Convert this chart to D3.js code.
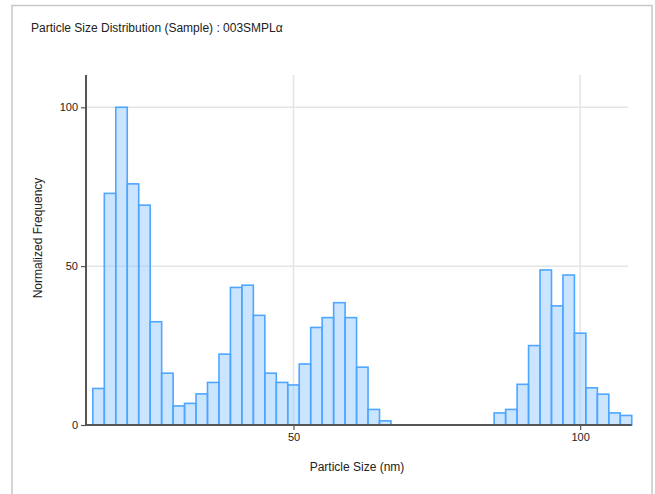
<!DOCTYPE html>
<html>
<head>
<meta charset="utf-8">
<script src="https://cdn.jsdelivr.net/npm/d3@7"></script>
<style>
  body { margin: 0; background: #fff; }
  text { font-family: "Liberation Sans", "DejaVu Sans", sans-serif; fill: #222; }
</style>
</head>
<body>
<div id="chart"></div>
<script>
// bin left edges (nm), width 2
const binStarts = [15, 17, 19, 21, 23, 25, 27, 29, 31, 33, 35, 37, 39, 41, 43, 45, 47, 49, 51, 53, 55, 57, 59, 61, 63, 65,
                   85, 87, 89, 91, 93, 95, 97, 99, 101, 103, 105, 107];
const frequency = [11.5, 72.9, 100, 75.9, 69.2, 32.5, 16.3, 6.0, 6.8, 9.8, 13.4, 22.3, 43.3, 44.0, 34.5, 16.3, 13.4, 12.6,
                   19.2, 30.7, 33.8, 38.5, 33.8, 18.2, 4.9, 1.3,
                   3.8, 4.9, 12.8, 25.0, 48.8, 37.5, 47.2, 28.9, 11.7, 9.7, 3.8, 3.0];
const binWidth = 2;
const yTicks = [0, 50, 100];
const xTicks = [50, 100];
const title = 'Particle Size Distribution (Sample) : 003SMPLα';

const width = 655, height = 494;
const plotLeft = 86, plotRight = 628, plotTop = 75, plotBottom = 425;

const svg = d3.select('#chart').append('svg')
    .attr('width', width)
    .attr('height', height);

// outer frame
svg.append('rect')
    .attr('x', 12).attr('y', 5.5)
    .attr('width', 640).attr('height', 500)
    .attr('fill', 'none')
    .attr('stroke', '#c8c8c8')
    .attr('stroke-width', 1.5);

svg.append('text')
    .attr('x', 31).attr('y', 32)
    .attr('font-size', 12)
    .text(title);

const x = d3.scaleLinear()
    .domain([50 - (293.5 - plotLeft) / 5.733, 50 + (plotRight - 293.5) / 5.733])
    .range([plotLeft, plotRight]);
const y = d3.scaleLinear().domain([0, 100]).range([plotBottom, 107.3]);

// grid
svg.selectAll('.hgrid')
    .data(yTicks.filter(d => d > 0))
    .enter().append('line')
    .attr('x1', plotLeft).attr('x2', plotRight)
    .attr('y1', d => y(d)).attr('y2', d => y(d))
    .attr('stroke', '#e4e4e4').attr('stroke-width', 1.5);

svg.selectAll('.vgrid')
    .data(xTicks)
    .enter().append('line')
    .attr('x1', d => x(d)).attr('x2', d => x(d))
    .attr('y1', plotTop).attr('y2', plotBottom)
    .attr('stroke', '#e4e4e4').attr('stroke-width', 1.5);

// bars
svg.selectAll('.bar')
    .data(binStarts)
    .enter().append('rect')
    .attr('class', 'bar')
    .attr('x', d => x(d))
    .attr('width', d => x(d + binWidth) - x(d))
    .attr('y', (d, i) => y(frequency[i]))
    .attr('height', (d, i) => y(0) - y(frequency[i]))
    .attr('fill', 'rgba(153, 204, 255, 0.5)')
    .attr('stroke', '#4ea6ff')
    .attr('stroke-width', 1.6);

// axes
const yAxis = svg.append('g')
    .attr('transform', `translate(${plotLeft},0)`)
    .call(d3.axisLeft(y).tickValues(yTicks).tickSize(5).tickPadding(3));
yAxis.select('.domain').attr('d', `M0,${plotTop}V${plotBottom}`);

const xAxis = svg.append('g')
    .attr('transform', `translate(0,${plotBottom})`)
    .call(d3.axisBottom(x).tickValues(xTicks).tickSize(5).tickPadding(3));
xAxis.select('.domain').attr('d', `M${plotLeft},0H${x(109)}`);

svg.selectAll('.domain').attr('stroke', '#555').attr('stroke-width', 2);
svg.selectAll('.tick line').attr('stroke', '#555').attr('stroke-width', 1.2);
svg.selectAll('.tick text')
    .attr('font-size', 11)
    .attr('font-family', '"Liberation Sans", "DejaVu Sans", sans-serif')
    .attr('fill', '#333');

svg.append('text')
    .attr('x', (plotLeft + plotRight) / 2).attr('y', 471)
    .attr('text-anchor', 'middle')
    .attr('font-size', 12)
    .text('Particle Size (nm)');

svg.append('text')
    .attr('transform', 'translate(42,238) rotate(-90)')
    .attr('text-anchor', 'middle')
    .attr('font-size', 12)
    .text('Normalized Frequency');
</script>
</body>
</html>
